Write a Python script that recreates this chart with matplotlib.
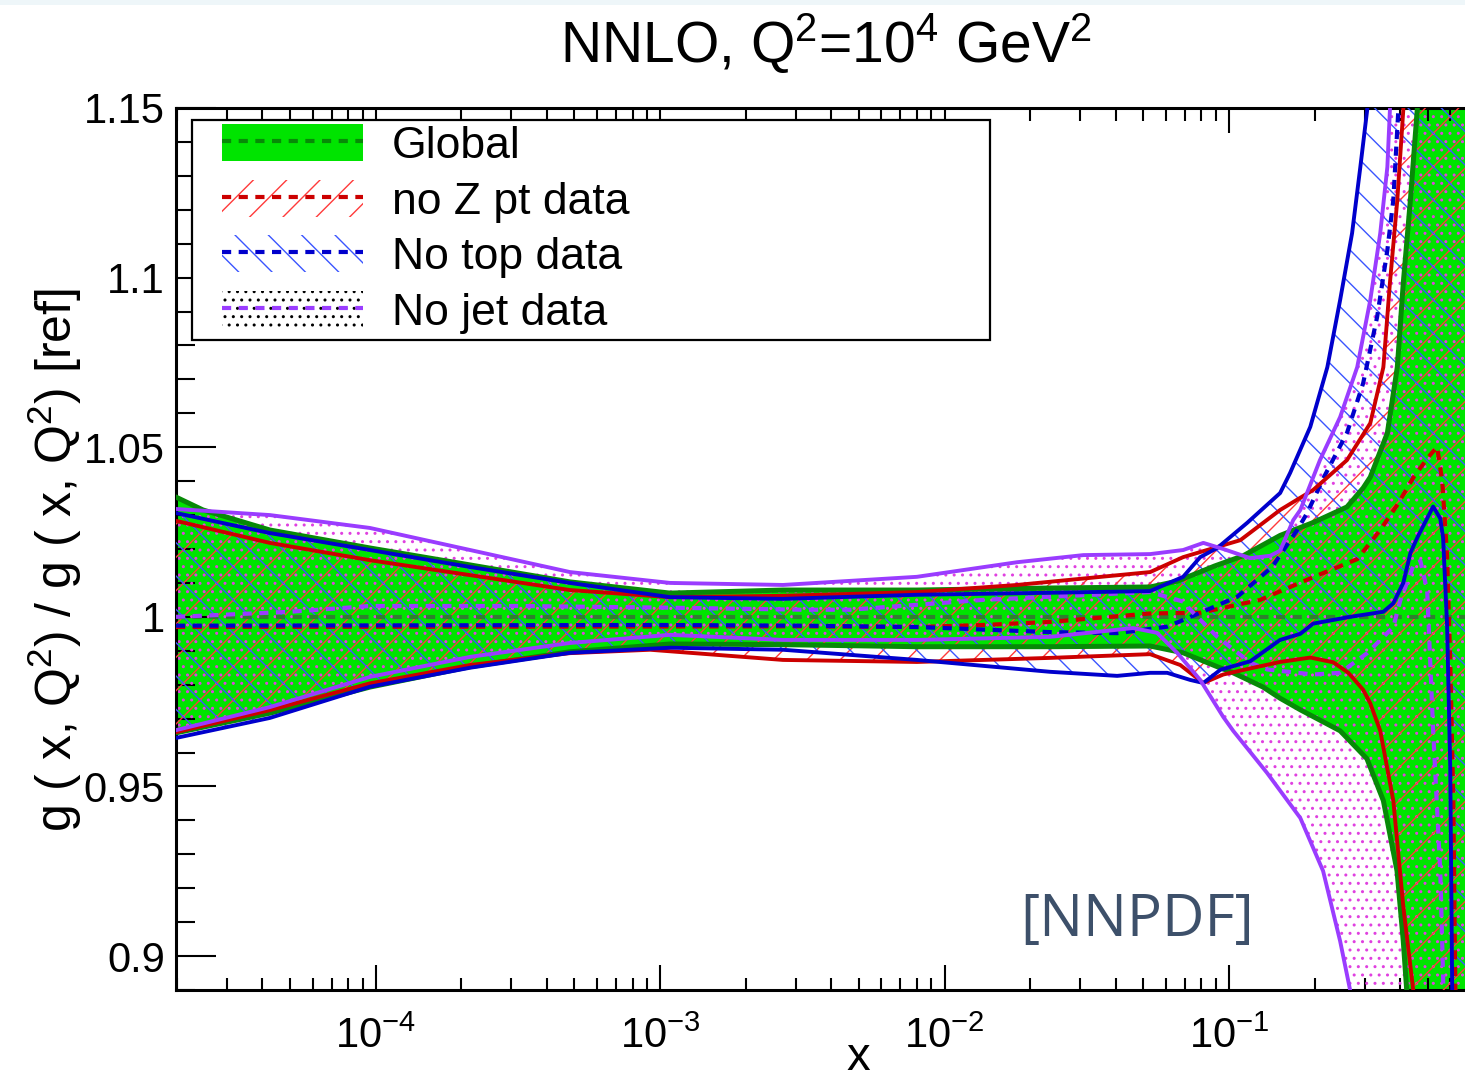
import numpy as np
import matplotlib
matplotlib.use("Agg")
import matplotlib.pyplot as plt
from matplotlib.patches import Patch, Rectangle
from matplotlib.lines import Line2D
from matplotlib.ticker import MultipleLocator, LogLocator, NullFormatter
from matplotlib.legend_handler import HandlerTuple

plt.rcParams['font.family'] = ['Liberation Sans', 'DejaVu Sans']
plt.rcParams['mathtext.fontset'] = 'custom'
plt.rcParams['mathtext.rm'] = 'Liberation Sans'
plt.rcParams['mathtext.it'] = 'Liberation Sans:italic'
plt.rcParams['mathtext.bf'] = 'Liberation Sans:bold'
plt.rcParams['hatch.linewidth'] = 1.0

# ---------------- data (log10 x, ratio to reference) ----------------
global_up_lx = [-4.702, -4.607, -4.372, -4.020, -3.668, -3.317, -2.965, -2.568, -2.097, -1.629, -1.277,
                -1.182, -1.050, -0.950, -0.820, -0.704, -0.585, -0.528, -0.503, -0.443, -0.408, -0.387,
                -0.362, -0.338, -0.320, -0.160]
global_up_v = [1.0353, 1.0315, 1.0256, 1.0203, 1.0153, 1.0103, 1.0070, 1.0079, 1.0079, 1.0085, 1.0088,
               1.0105, 1.0150, 1.0180, 1.0240, 1.0278, 1.0324, 1.0380, 1.0412, 1.0542, 1.0736, 1.0984,
               1.1229, 1.1494, 1.1800, 1.4000]
global_lo_lx = [-4.702, -4.372, -4.020, -3.668, -3.317, -2.965, -2.568, -2.097, -1.629, -1.277, -1.161,
                -1.041, -0.985, -0.880, -0.820, -0.749, -0.609, -0.515, -0.457, -0.409, -0.387, -0.375,
                -0.360, -0.160]
global_lo_v = [0.9658, 0.9716, 0.9793, 0.9853, 0.9897, 0.9920, 0.9918, 0.9912, 0.9912, 0.9914, 0.9894,
               0.9853, 0.9835, 0.9793, 0.9760, 0.9726, 0.9664, 0.9582, 0.9458, 0.9251, 0.9044, 0.8900,
               0.8500, 0.7000]
global_c_lx = [-4.702, -0.160]
global_c_v = [1.0, 1.0]

noz_up_lx = [-4.702, -4.372, -4.020, -3.668, -3.317, -2.965, -2.568, -2.097, -1.745, -1.277, -1.161,
             -1.041, -0.960, -0.820, -0.704, -0.585, -0.503, -0.457, -0.434, -0.408, -0.387, -0.370, -0.160]
noz_up_v = [1.0283, 1.0218, 1.0167, 1.0123, 1.0079, 1.0058, 1.0062, 1.0073, 1.0094, 1.0132, 1.0176,
            1.0206, 1.0226, 1.0315, 1.0374, 1.0462, 1.0571, 1.0736, 1.0984, 1.1229, 1.1494, 1.1800, 1.4000]
noz_lo_lx = [-4.702, -4.372, -4.020, -3.668, -3.317, -3.035, -2.568, -2.097, -1.629, -1.277, -1.171,
             -1.090, -1.020, -0.925, -0.820, -0.714, -0.633, -0.580, -0.528, -0.503, -0.468, -0.422,
             -0.387, -0.352, -0.330, -0.160]
noz_lo_v = [0.9660, 0.9725, 0.9804, 0.9858, 0.9893, 0.9903, 0.9873, 0.9867, 0.9879, 0.9890, 0.9858,
            0.9805, 0.9830, 0.9848, 0.9867, 0.9880, 0.9866, 0.9835, 0.9785, 0.9745, 0.9664, 0.9458,
            0.9147, 0.8900, 0.8500, 0.7000]
noz_c_lx = [-4.702, -3.500, -2.500, -2.097, -1.864, -1.629, -1.277, -1.100, -0.890, -0.704, -0.549,
            -0.468, -0.408, -0.352, -0.300, -0.268, -0.250, -0.233, -0.222, -0.211, -0.204, -0.190]
noz_c_v = [0.9970, 0.9971, 0.9972, 0.9970, 0.9976, 0.9985, 1.0010, 1.0012, 1.0050, 1.0117, 1.0170,
           1.0256, 1.0330, 1.0410, 1.0470, 1.0501, 1.0400, 1.0180, 0.9873, 0.9458, 0.8900, 0.8000]

notop_up_lx = [-4.702, -4.372, -4.020, -3.668, -3.317, -2.965, -2.568, -2.097, -1.629, -1.277, -1.161,
               -1.101, -1.041, -0.936, -0.820, -0.785, -0.714, -0.654, -0.609, -0.567, -0.538, -0.514,
               -0.490, -0.160]
notop_up_v = [1.0306, 1.0247, 1.0197, 1.0147, 1.0100, 1.0058, 1.0053, 1.0065, 1.0071, 1.0076, 1.0118,
              1.0176, 1.0203, 1.0277, 1.0365, 1.0424, 1.0560, 1.0736, 1.0934, 1.1131, 1.1326, 1.1494,
              1.1800, 1.4000]
notop_lo_lx = [-4.702, -4.372, -4.020, -3.668, -3.317, -2.965, -2.568, -2.097, -1.629, -1.393, -1.277,
               -1.217, -1.136, -1.090, -1.030, -0.925, -0.820, -0.749, -0.704, -0.574, -0.457, -0.422,
               -0.387, -0.362, -0.338, -0.282, -0.257, -0.247, -0.233, -0.222, -0.215, -0.200, -0.160]
notop_lo_v = [0.9643, 0.9702, 0.9794, 0.9850, 0.9894, 0.9909, 0.9903, 0.9873, 0.9838, 0.9826, 0.9835,
              0.9835, 0.9814, 0.9805, 0.9844, 0.9869, 0.9932, 0.9950, 0.9980, 1.0000, 1.0015, 1.0040,
              1.0100, 1.0188, 1.0233, 1.0325, 1.0290, 1.0233, 0.9976, 0.9561, 0.8900, 0.8000, 0.7000]
notop_c_lx = [-4.702, -3.000, -2.500, -2.097, -1.629, -1.393, -1.217, -1.101, -0.971, -0.848, -0.760,
              -0.725, -0.666, -0.585, -0.528, -0.479, -0.443, -0.422, -0.405, -0.390]
notop_c_v = [0.9974, 0.9976, 0.9974, 0.9970, 0.9955, 0.9952, 0.9971, 1.0012, 1.0059, 1.0147, 1.0256,
             1.0306, 1.0412, 1.0542, 1.0689, 1.0884, 1.1081, 1.1229, 1.1485, 1.1800]

nojet_up_lx = [-4.702, -4.372, -4.020, -3.668, -3.317, -2.965, -2.568, -2.097, -1.745, -1.512, -1.277,
               -1.161, -1.090, -1.020, -0.925, -0.855, -0.820, -0.774, -0.749, -0.680, -0.609, -0.549,
               -0.503, -0.468, -0.443, -0.434, -0.420, -0.160]
nojet_up_v = [1.0318, 1.0300, 1.0262, 1.0197, 1.0132, 1.0100, 1.0094, 1.0118, 1.0161, 1.0182, 1.0185,
              1.0197, 1.0218, 1.0200, 1.0173, 1.0180, 1.0195, 1.0285, 1.0315, 1.0462, 1.0589, 1.0736,
              1.0934, 1.1131, 1.1326, 1.1494, 1.1800, 1.4000]
nojet_lo_lx = [-4.702, -4.372, -4.020, -3.668, -3.317, -2.965, -2.568, -2.097, -1.629, -1.337, -1.253,
               -1.182, -1.101, -1.020, -0.985, -0.866, -0.749, -0.669, -0.609, -0.574, -0.550, -0.160]
nojet_lo_v = [0.9666, 0.9734, 0.9823, 0.9882, 0.9923, 0.9947, 0.9932, 0.9932, 0.9941, 0.9967, 0.9953,
              0.9894, 0.9814, 0.9705, 0.9664, 0.9540, 0.9407, 0.9251, 0.9044, 0.8900, 0.8600, 0.7000]
nojet_c_lx = [-4.702, -4.300, -4.020, -3.500, -2.965, -2.500, -2.332, -1.864, -1.277, -1.161, -1.136,
              -1.041, -0.925, -0.866, -0.704, -0.609, -0.514, -0.422, -0.398, -0.352, -0.327, -0.303,
              -0.282, -0.257, -0.247, -0.240]
nojet_c_v = [1.0000, 1.0015, 1.0032, 1.0032, 1.0027, 1.0021, 1.0021, 1.0050, 1.0073, 1.0045, 1.0021,
             0.9941, 0.9865, 0.9845, 0.9830, 0.9835, 0.9893, 0.9970, 1.0047, 1.0150, 1.0165, 1.0079,
             0.9664, 0.9251, 0.8941, 0.8500]

labels = ["Global", "no Z pt data", "No top data", "No jet data"]
ytick_vals = [0.9, 0.95, 1.0, 1.05, 1.1, 1.15]
ytick_labels = ["0.9", "0.95", "1", "1.05", "1.1", "1.15"]
xlim_lx = (-4.702, -0.170)
ylim = (0.89, 1.15)

# ---------------- styles ----------------
GREEN = '#00e400'
DKGREEN = '#078a07'
GCENTRAL = '#2f7f2f'
RED = '#cc0000'
RED_H = '#ff3a3a'
BLUE = '#0000cc'
BLUE_H = '#3a55ff'
PURPLE = '#9a3cff'
DOTS = '#e040e0'
DASH = (0, (2.2, 1.8))


def X(lx):
    return 10.0 ** np.asarray(lx)


def band_poly(ulx, uv, llx, lv):
    xs = np.concatenate([X(ulx), X(llx)[::-1]])
    ys = np.concatenate([np.asarray(uv), np.asarray(lv)[::-1]])
    return xs, ys


fig = plt.figure(figsize=(14.65, 10.8), dpi=100)
fig.patches.append(Rectangle((0, 1 - 5 / 1080), 1, 5 / 1080, transform=fig.transFigure,
                             facecolor='#eef6f9', edgecolor='none', zorder=0))
ax = fig.add_axes([176 / 1465, 1 - 990 / 1080, (1465 - 176) / 1465, (990 - 108) / 1080])

# bands
xs, ys = band_poly(global_up_lx, global_up_v, global_lo_lx, global_lo_v)
ax.fill(xs, ys, facecolor=GREEN, edgecolor='none', zorder=1)
xs, ys = band_poly(nojet_up_lx, nojet_up_v, nojet_lo_lx, nojet_lo_v)
ax.fill(xs, ys, facecolor='none', edgecolor=DOTS, linewidth=0, hatch='..', zorder=2)
xs, ys = band_poly(noz_up_lx, noz_up_v, noz_lo_lx, noz_lo_v)
ax.fill(xs, ys, facecolor='none', edgecolor=RED_H, linewidth=0, hatch='/', zorder=3)
xs, ys = band_poly(notop_up_lx, notop_up_v, notop_lo_lx, notop_lo_v)
ax.fill(xs, ys, facecolor='none', edgecolor=BLUE_H, linewidth=0, hatch='\\', zorder=4)

# global edges
ax.plot(X(global_up_lx), global_up_v, color=DKGREEN, lw=3.6, zorder=5)
ax.plot(X(global_lo_lx), global_lo_v, color=DKGREEN, lw=3.6, zorder=5)

# centrals
ax.plot(X(global_c_lx), global_c_v, color=GCENTRAL, lw=3.0, ls=DASH, zorder=6)
ax.plot(X(noz_c_lx), noz_c_v, color=RED, lw=3.0, ls=DASH, zorder=6)
ax.plot(X(notop_c_lx), notop_c_v, color=BLUE, lw=3.0, ls=DASH, zorder=6)
ax.plot(X(nojet_c_lx), nojet_c_v, color=PURPLE, lw=3.0, ls=DASH, zorder=6)

# band edges
for lx, v, c in [(noz_up_lx, noz_up_v, RED), (noz_lo_lx, noz_lo_v, RED),
                 (notop_up_lx, notop_up_v, BLUE), (notop_lo_lx, notop_lo_v, BLUE),
                 (nojet_up_lx, nojet_up_v, PURPLE), (nojet_lo_lx, nojet_lo_v, PURPLE)]:
    ax.plot(X(lx), v, color=c, lw=2.8, zorder=7)

# axes
ax.set_xscale('log')
ax.set_xlim(X(xlim_lx[0]), X(xlim_lx[1]))
ax.set_ylim(*ylim)
ax.xaxis.set_major_locator(LogLocator(base=10, numticks=20))
ax.xaxis.set_minor_locator(LogLocator(base=10, subs=np.arange(2, 10), numticks=20))
ax.xaxis.set_minor_formatter(NullFormatter())
ax.set_yticks(ytick_vals)
ax.set_yticklabels(ytick_labels)
ax.yaxis.set_minor_locator(MultipleLocator(0.01))
ax.tick_params(which='both', direction='in', top=True, right=False, width=1.5, labelsize=30,
               colors='black')
ax.tick_params(axis='y', which='major', length=29, pad=8)
ax.tick_params(axis='y', which='minor', length=14)
ax.tick_params(axis='x', which='major', length=18, pad=19)
ax.tick_params(axis='x', which='minor', length=9)
for s in ['left', 'bottom', 'top']:
    ax.spines[s].set_linewidth(2.2)
ax.spines['right'].set_visible(False)

ax.set_xlabel('x', fontsize=34)
ax.xaxis.label.set_va('baseline')
ax.xaxis.set_label_coords(0.529, -0.0905)
ax.set_ylabel('g ( x, Q$^2$) / g ( x, Q$^2$) [ref]', fontsize=36)
ax.yaxis.label.set_va('center')
ax.yaxis.label.set_ha('center')
ax.yaxis.set_label_coords(-0.094, 0.4875)

fig.text(826 / 1465, 1 - 63 / 1080, 'NNLO, Q$^2$=10$^4$ GeV$^2$', ha='center', va='baseline',
         fontsize=41)

ax.text(0.6548, 0.0612, '[NNPDF]', transform=ax.transAxes, fontsize=42, color='#3d506a',
        family=['Open Sans', 'DejaVu Sans'], va='baseline', ha='left', zorder=8)

# legend (frame drawn as a separate box, entries placed inside)
ax.add_patch(Rectangle((0.0124, 0.737), 0.619, 0.2494, transform=ax.transAxes,
                       facecolor='white', edgecolor='black', lw=1.6, zorder=9))
handles = [
    (Patch(facecolor=GREEN, edgecolor='none'),
     Line2D([], [], color=DKGREEN, lw=3.0, ls=DASH)),
    (Patch(facecolor='white', edgecolor=RED_H, hatch='/', lw=0),
     Line2D([], [], color=RED, lw=3.0, ls=DASH)),
    (Patch(facecolor='white', edgecolor=BLUE_H, hatch='\\', lw=0),
     Line2D([], [], color=BLUE, lw=3.0, ls=DASH)),
    (Patch(facecolor='white', edgecolor='black', hatch='..', lw=0),
     Line2D([], [], color=PURPLE, lw=3.0, ls=DASH)),
]
leg = ax.legend(handles, labels, handler_map={tuple: HandlerTuple(ndivide=1, pad=0)},
                loc='upper left', bbox_to_anchor=(0.0306, 0.9893),
                fontsize=32, frameon=False,
                borderpad=0.15, labelspacing=0.29, handlelength=3.18, handleheight=0.9,
                handletextpad=0.64, borderaxespad=0)
leg.set_zorder(10)

fig.savefig('out.png', dpi=100)
